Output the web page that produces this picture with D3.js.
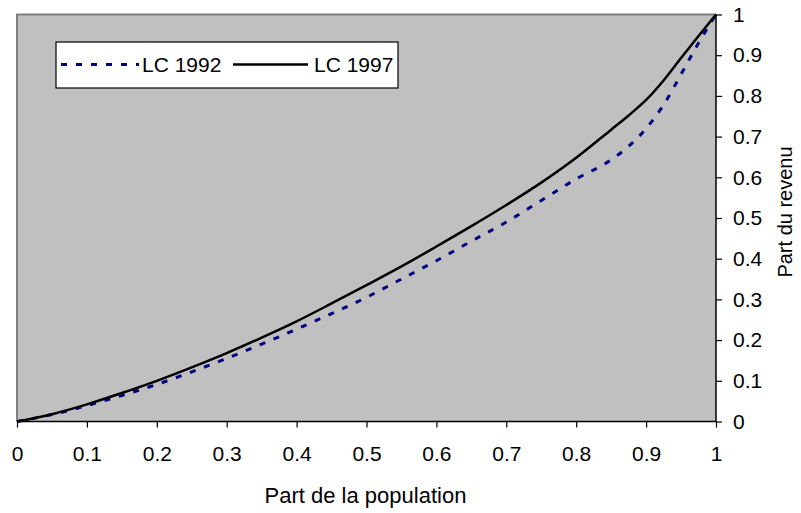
<!DOCTYPE html>
<html>
<head>
<meta charset="utf-8">
<script src="https://cdn.jsdelivr.net/npm/d3@7"></script>
<style>
  html, body { margin: 0; padding: 0; background: #fff; }
  text { font-family: "Liberation Sans", Arial, sans-serif; fill: #000; }
</style>
</head>
<body>
<svg id="chart" width="801" height="513"></svg>
<script>
const popShare = [0, 0.05, 0.1, 0.15, 0.2, 0.25, 0.3, 0.35, 0.4, 0.45, 0.5, 0.55, 0.6, 0.65, 0.7, 0.75, 0.8, 0.85, 0.875, 0.9, 0.925, 0.95, 0.975, 1];
const lc1992 = [0, 0.017, 0.039, 0.064, 0.091, 0.122, 0.155, 0.19, 0.227, 0.265, 0.305, 0.35, 0.395, 0.443, 0.49, 0.543, 0.596, 0.643, 0.676, 0.72, 0.778, 0.853, 0.93, 1];
const lc1997 = [0, 0.018, 0.042, 0.07, 0.10, 0.133, 0.168, 0.206, 0.246, 0.29, 0.335, 0.381, 0.43, 0.48, 0.532, 0.587, 0.648, 0.717, 0.752, 0.79, 0.838, 0.893, 0.947, 1];
const ticks = [0, 0.1, 0.2, 0.3, 0.4, 0.5, 0.6, 0.7, 0.8, 0.9, 1];
const seriesNames = ["LC 1992", "LC 1997"];

const svg = d3.select("#chart");
const L = 17, R = 716, T = 14.5, B = 421.5;
const x = d3.scaleLinear().domain([0, 1]).range([L, R]);
const y = d3.scaleLinear().domain([0, 1]).range([B, T]);

// plot area
svg.append("rect").attr("x", L).attr("y", T).attr("width", R - L).attr("height", B - T)
  .attr("fill", "#c0c0c0");
svg.append("path").attr("d", `M${L},${B}V${T}H${R}`).attr("fill", "none")
  .attr("stroke", "#808080").attr("stroke-width", 2);

// axes
const xAxis = svg.append("g").attr("transform", `translate(0,${B})`)
  .call(d3.axisBottom(x).tickValues(ticks).tickSize(6).tickPadding(19).tickFormat(d3.format("")));
const yAxis = svg.append("g").attr("transform", `translate(${R},0)`)
  .call(d3.axisRight(y).tickValues(ticks).tickSize(6).tickPadding(11).tickFormat(d3.format("")));
[xAxis, yAxis].forEach(g => {
  g.select(".domain").attr("stroke", "#000").attr("stroke-width", 1.5);
  g.selectAll(".tick line").attr("stroke", "#000").attr("stroke-width", 1.2);
  g.selectAll("text").style("font-family", '"Liberation Sans", Arial, sans-serif')
    .style("font-size", "21px").attr("fill", "#000");
});
xAxis.select(".domain").attr("d", `M${L},0H${R}`);
yAxis.select(".domain").attr("d", `M0,${T}V${B}`);

// lines
const line = d3.line().x(d => x(d[0])).y(d => y(d[1])).curve(d3.curveMonotoneX);
svg.append("path").datum(popShare.map((p, i) => [p, lc1992[i]]))
  .attr("d", line).attr("fill", "none").attr("stroke", "#000080")
  .attr("stroke-width", 3).attr("stroke-dasharray", "6,9");
svg.append("path").datum(popShare.map((p, i) => [p, lc1997[i]]))
  .attr("d", line).attr("fill", "none").attr("stroke", "#000")
  .attr("stroke-width", 2.5);

// axis titles
svg.append("text").attr("x", 365.5).attr("y", 503).attr("text-anchor", "middle")
  .style("font-size", "22px").text("Part de la population");
svg.append("text").attr("transform", "translate(792,212) rotate(-90)").attr("text-anchor", "middle")
  .style("font-size", "20px").text("Part du revenu");

// legend
const lg = svg.append("g");
lg.append("rect").attr("x", 56).attr("y", 42).attr("width", 342).attr("height", 46)
  .attr("fill", "#fff").attr("stroke", "#000").attr("stroke-width", 1.2);
lg.append("line").attr("x1", 61).attr("x2", 139).attr("y1", 64.5).attr("y2", 64.5)
  .attr("stroke", "#000080").attr("stroke-width", 3).attr("stroke-dasharray", "6,9");
lg.append("text").attr("x", 142).attr("y", 72).style("font-size", "21px").text(seriesNames[0]);
lg.append("line").attr("x1", 233).attr("x2", 308).attr("y1", 64.5).attr("y2", 64.5)
  .attr("stroke", "#000").attr("stroke-width", 2.5);
lg.append("text").attr("x", 314).attr("y", 72).style("font-size", "21px").text(seriesNames[1]);
</script>
</body>
</html>
